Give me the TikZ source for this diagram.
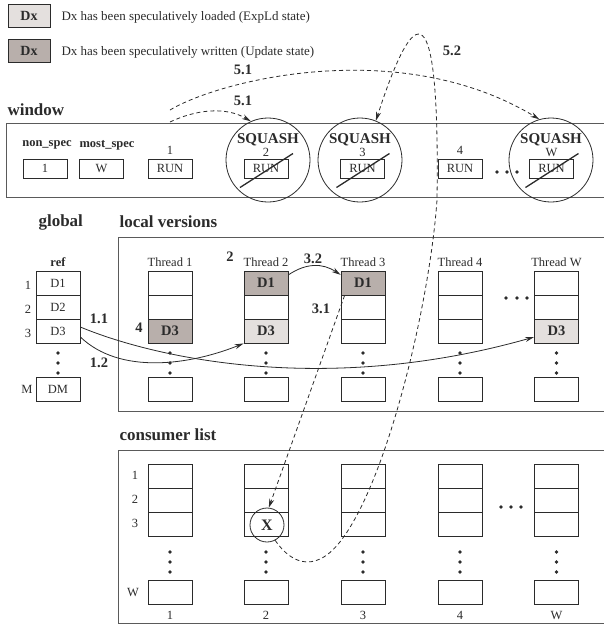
\documentclass[tikz,border=0pt]{standalone}
\usepackage{fontspec}
\setmainfont{Liberation Serif}
\usetikzlibrary{arrows.meta}
\definecolor{updfill}{HTML}{B8AFAB}
\definecolor{ldfill}{HTML}{E4E0DE}
\definecolor{ink}{HTML}{2B2B2B}
\definecolor{framegray}{HTML}{5A5A5A}
\newcommand\fsz[1]{\fontsize{#1}{#1}\selectfont}
\begin{document}
\begin{tikzpicture}[x=1pt,y=-1pt,
  every node/.style={text=ink},
  cell/.style={draw=ink,line width=0.8pt,minimum width=44pt,minimum height=24pt,inner sep=0pt,font=\fsz{12.5}},
  hot/.style={cell,fill=updfill,font=\bfseries\fsz{14.5}},
  warm/.style={cell,fill=ldfill,font=\bfseries\fsz{14.5}},
  wbox/.style={draw=ink,line width=0.8pt,minimum width=44pt,minimum height=19pt,inner sep=0pt,font=\fsz{12.5}},
  squash/.style={circle,draw=ink,line width=0.8pt,minimum size=84pt,inner sep=0pt},
  strike/.style={line width=1.3pt,draw=ink},
  dot/.style={circle,fill=ink,inner sep=0pt,minimum size=3.8pt},
  title/.style={font=\bfseries\fsz{17},anchor=west},
  tag/.style={font=\bfseries\fsz{14.5}},
  head/.style={font=\bfseries\fsz{12.5}},
  small/.style={font=\fsz{12.5}},
  sqlabel/.style={font=\bfseries\fsz{15}},
  panel/.style={draw=framegray,line width=1pt},
  flow/.style={draw=ink,line width=0.8pt,-{Stealth[length=9pt,width=5pt]}},
  hop/.style={flow,dash pattern=on 4pt off 3pt}
]
\useasboundingbox (0,0) rectangle (604,625);
\clip (0,0) rectangle (604,625);

% ---------- key ----------
\node[cell,fill=ldfill,minimum width=42pt,minimum height=23pt,font=\bfseries\fsz{14}] (keyld) at (29,15.5) {Dx};
\node[anchor=west,font=\fsz{13}] (keyldtxt) at (58,17) {Dx has been speculatively loaded (ExpLd state)};
\node[cell,fill=updfill,minimum width=42pt,minimum height=23pt,font=\bfseries\fsz{14}] (keyup) at (29,50.5) {Dx};
\node[anchor=west,font=\fsz{13}] (keyuptxt) at (58,52) {Dx has been speculatively written (Update state)};

% ---------- window ----------
\node[title] (wintitle) at (4,110) {window};
\draw[panel] (6,123) rectangle (612,197);
\node[head] (nslbl) at (47,145) {non\_spec};
\node[head] (mslbl) at (107,145) {most\_spec};
\node[wbox] (wns) at (45,168.5) {1};
\node[wbox] (wms) at (101.5,168.5) {W};

\node[small] (w1lbl) at (170,150) {1};
\node[wbox] (w1) at (170,168.5) {RUN};
\node[small] (w2lbl) at (266,152) {2};
\node[wbox] (w2) at (266,168.5) {RUN};
\node[small] (w3lbl) at (362.5,152) {3};
\node[wbox] (w3) at (362.5,168.5) {RUN};
\node[small] (w4lbl) at (460,150) {4};
\node[wbox] (w4) at (460,168.5) {RUN};
\node[small] (wWlbl) at (551.5,152) {W};
\node[wbox] (wW) at (551.5,168.5) {RUN};
\foreach \x in {497,507,517} \node[dot] (wdot\x) at (\x,172) {};

\node[squash] (sq1) at (268,160) {};
\node[squash] (sq2) at (360,160) {};
\node[squash] (sqW) at (551,160) {};
\node[sqlabel] (sq1lbl) at (268,140) {SQUASH};
\node[sqlabel] (sq2lbl) at (360,140) {SQUASH};
\node[sqlabel] (sqWlbl) at (551,140) {SQUASH};
\foreach \b in {w2,w3,wW}
  \draw[strike] ([shift={(-26,19)}]\b.center) -- ([shift={(27,-15)}]\b.center);

% ---------- global / local versions ----------
\node[title] (gtitle) at (35,222) {global};
\node[title] (ltitle) at (116,222) {local versions};
\draw[panel] (118,237) rectangle (612,411);

\node[head] (reflbl) at (58,262) {ref};
\node[cell] (r1) at (58,283) {D1};
\node[cell] (r2) at (58,307) {D2};
\node[cell] (r3) at (58,331) {D3};
\node[cell] (rM) at (58,389) {DM};
\node[small] (r1lbl) at (28,285) {1};
\node[small] (r2lbl) at (28,309) {2};
\node[small] (r3lbl) at (28,333) {3};
\node[small] (rMlbl) at (27,389) {M};
\foreach \y in {353,363,373} \node[dot] (rdot\y) at (58,\y) {};

\foreach \n/\x in {1/170,2/266,3/363,4/460,W/556.5}{
  \node[small] (th\n) at (\x,262) {Thread \n};
  \node[cell] (t\n m) at (\x,389) {};
  \foreach \y in {353,363,373} \node[dot] (tdot\n\y) at (\x,\y) {};
}
% thread 1
\node[cell] (t1a) at (170,283) {};
\node[cell] (t1b) at (170,307) {};
\node[hot]  (t1c) at (170,331) {D3};
% thread 2
\node[hot]  (t2a) at (266,283) {D1};
\node[cell] (t2b) at (266,307) {};
\node[warm] (t2c) at (266,331) {D3};
% thread 3
\node[hot]  (t3a) at (363,283) {D1};
\node[cell] (t3b) at (363,307) {};
\node[cell] (t3c) at (363,331) {};
% thread 4
\node[cell] (t4a) at (460,283) {};
\node[cell] (t4b) at (460,307) {};
\node[cell] (t4c) at (460,331) {};
% thread W
\node[cell] (tWa) at (556.5,283) {};
\node[cell] (tWb) at (556.5,307) {};
\node[warm] (tWc) at (556.5,331) {D3};
\foreach \x in {506,517,527} \node[dot] (tdot\x) at (\x,298) {};

% ---------- consumer list ----------
\node[title] (ctitle) at (116,435) {consumer list};
\draw[panel] (118,450) rectangle (612,623);
\node[small] (c1lbl) at (135,475) {1};
\node[small] (c2lbl) at (135,499) {2};
\node[small] (c3lbl) at (135,523) {3};
\node[small] (cWlbl) at (133,592) {W};
\foreach \n/\x in {1/170,2/266,3/363,4/460,W/556.5}{
  \node[cell] (c\n a) at (\x,476) {};
  \node[cell] (c\n b) at (\x,500) {};
  \node[cell] (c\n c) at (\x,524) {};
  \node[cell] (c\n m) at (\x,592) {};
  \node[small] (cc\n) at (\x,615) {\n};
  \foreach \y in {552,562,572} \node[dot] (cdot\n\y) at (\x,\y) {};
}
\foreach \x in {501,511,521} \node[dot] (cdot\x) at (\x,507) {};
\node[circle,draw=ink,line width=0.8pt,minimum size=34pt,inner sep=0pt,font=\bfseries\fsz{16}] (xc) at (267,525) {X};

% ---------- step labels ----------
\node[tag] (s4)  at (139,328) {4};
\node[tag] (s2)  at (230,257) {2};
\node[tag] (s11) at (99,319) {1.1};
\node[tag] (s12) at (99,363) {1.2};
\node[tag] (s32) at (313,259) {3.2};
\node[tag] (s31) at (321,309) {3.1};
\node[tag] (s51a) at (243,70) {5.1};
\node[tag] (s51b) at (243,101) {5.1};
\node[tag] (s52) at (452,51) {5.2};

% ---------- connectors ----------
\draw[flow] (r3.10) .. controls (160,360) and (330,395) .. (tWc.195);
\draw[flow] (r3.-15) .. controls (120,375) and (190,365) .. (t2c.south west);
\draw[flow] (t2a.20) .. controls +(18,-12) and +(-18,-12) .. (t3a.160);
\draw[hop] (t3a.-146) -- (xc.84);
\draw[hop] (xc.-62) .. controls (292,565) and (318,575) .. (345,535)
  .. controls (390,470) and (430,300) .. (437,200)
  .. controls (440,-10) and (415,0) .. (sq2.68);
\coordinate (from51a) at (170,110);
\coordinate (from51b) at (170,122);
\draw[hop] (from51a) .. controls (220,80) and (400,35) .. (sqW.106);
\draw[hop] (from51b) .. controls (195,110) and (225,106) .. (sq1.114);
\end{tikzpicture}
\end{document}
